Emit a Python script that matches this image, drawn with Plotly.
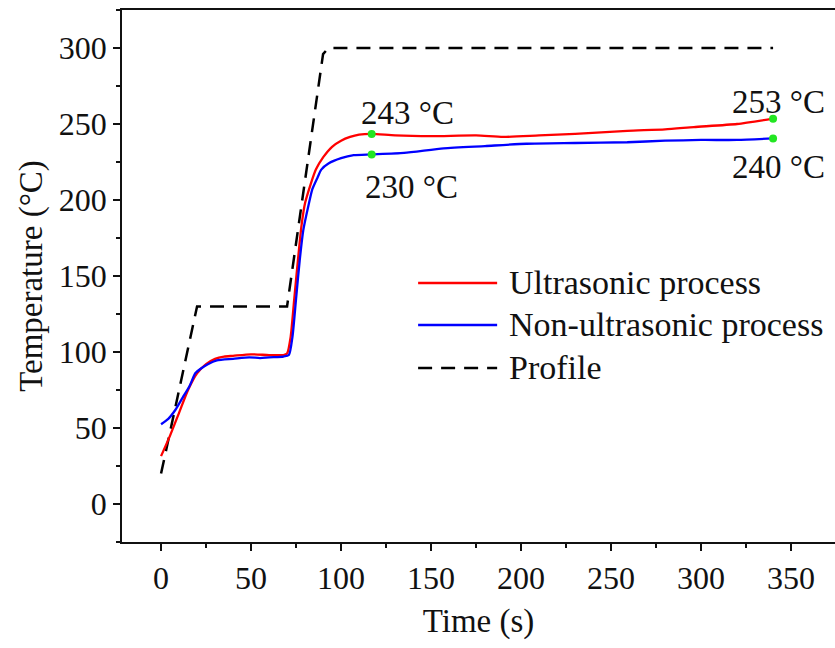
import plotly.graph_objects as go

# ---- data ----
ultra_t = [0, 5, 10, 15, 20, 25, 30, 35, 40, 50, 60, 68, 70, 72, 74, 76, 78, 80, 83, 86, 90, 95, 100, 105, 110, 117,
           130, 150, 175, 190, 210, 230, 259, 280, 296, 320, 340]
ultra_T = [31.5, 45, 60, 75, 86, 92, 95.5, 97, 97.5, 98.5, 98, 98, 99, 110, 135, 160, 183, 198, 210, 220, 228, 235, 239,
           241.5, 243, 243.5, 242.5, 242, 242.5, 241.5, 242.5, 243.5, 245.5, 246.5, 248, 250, 253.5]

non_t = [0, 4, 8, 12, 16, 19, 22, 26, 31, 40, 49, 55, 60, 68, 71, 73, 75, 77, 79, 82, 84, 87, 89, 93, 100, 107, 117,
         135, 157, 180, 203, 230, 259, 280, 300, 320, 340]
non_T = [52.5, 56, 62, 70, 78, 86, 89, 92, 94.5, 95.5, 96.5, 96, 96.5, 97, 98, 110, 135, 160, 180, 197, 207, 215, 220,
         224, 227.5, 229.5, 230, 231, 234, 235.5, 237, 237.5, 238, 239, 239.5, 239.5, 240.5]

profile_t = [0, 20, 70, 90, 93, 340]
profile_T = [20, 130, 130, 296, 300, 300]

mark_t = [117, 117, 340, 340]
mark_T = [243.5, 230, 253.5, 240.5]
mark_labels = ["243 °C", "230 °C", "253 °C", "240 °C"]
label_t = [137, 139, 343, 343]
label_T = [257, 208.5, 264.5, 221.7]

x_ticks = [0, 50, 100, 150, 200, 250, 300, 350]
y_ticks = [0, 50, 100, 150, 200, 250, 300]

legend_names = ["Ultrasonic process", "Non-ultrasonic process", "Profile"]
legend_colors = ["#ff0000", "#0000ff", "#000000"]
legend_dash = ["solid", "solid", "14px,9px"]
legend_T = [145.4, 117.8, 89.5]

FONT = "Liberation Serif, Times New Roman, serif"
TXT = "#111111"

fig = go.Figure()
fig.add_trace(go.Scatter(x=profile_t, y=profile_T, mode="lines",
                         line=dict(color="#000000", width=2.5, dash="14px,9px"), showlegend=False))
fig.add_trace(go.Scatter(x=ultra_t, y=ultra_T, mode="lines",
                         line=dict(color="#ff0000", width=2.3, shape="spline", smoothing=0.6), showlegend=False))
fig.add_trace(go.Scatter(x=non_t, y=non_T, mode="lines",
                         line=dict(color="#0000ff", width=2.3, shape="spline", smoothing=0.6), showlegend=False))
fig.add_trace(go.Scatter(x=mark_t, y=mark_T, mode="markers", marker=dict(color="#22e622", size=8), showlegend=False))

for txt, tx, ty in zip(mark_labels, label_t, label_T):
    fig.add_annotation(x=tx, y=ty, text=txt, showarrow=False, xref="x", yref="y",
                       font=dict(family=FONT, size=33, color=TXT))

# custom legend
for name, col, dsh, ly in zip(legend_names, legend_colors, legend_dash, legend_T):
    fig.add_shape(type="line", xref="x", yref="y", x0=142.8, x1=186.7, y0=ly, y1=ly,
                  line=dict(color=col, width=2.5, dash=dsh))
    fig.add_annotation(x=192.0, y=ly, text=name, showarrow=False, xanchor="left", xref="x", yref="y",
                       font=dict(family=FONT, size=34, color=TXT))

fig.update_layout(
    width=835, height=648,
    margin=dict(l=122, r=0, t=10, b=106),
    paper_bgcolor="white", plot_bgcolor="white",
    font=dict(family=FONT, size=32, color=TXT),
    showlegend=False,
)
fig.update_xaxes(range=[-21.7, 374.4], tickvals=x_ticks, ticks="outside", ticklen=7, tickwidth=1.5,
                 showline=True, linecolor=TXT, linewidth=1.5, mirror=True, showgrid=False, zeroline=False,
                 minor=dict(dtick=25, tick0=0, ticks="outside", ticklen=4, tickwidth=1.5, tickcolor=TXT),
                 tickcolor=TXT, title=dict(text="Time (s)", font=dict(size=33), standoff=14),
                 tickfont=dict(size=32))
fig.update_yaxes(range=[-25, 325], tickvals=y_ticks, ticks="outside", ticklen=7, tickwidth=1.5,
                 showline=True, linecolor=TXT, linewidth=1.5, mirror=False, showgrid=False, zeroline=False,
                 minor=dict(dtick=25, tick0=0, ticks="outside", ticklen=4, tickwidth=1.5, tickcolor=TXT),
                 tickcolor=TXT, title=dict(text="Temperature (°C)", font=dict(size=33), standoff=6),
                 tickfont=dict(size=32))

fig.write_html("out.html")
